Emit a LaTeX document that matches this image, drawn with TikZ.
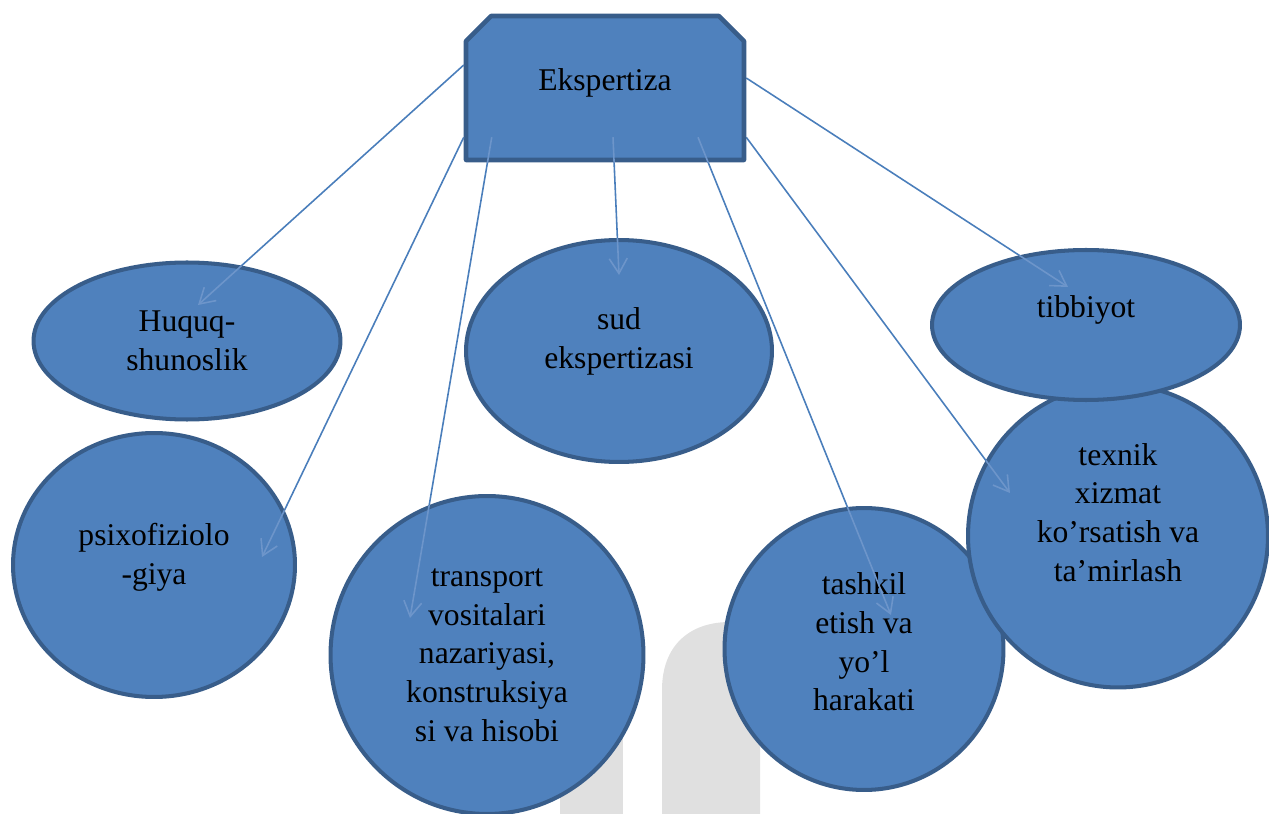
\documentclass[tikz,border=0pt]{standalone}
\usepackage{fontspec}
\setmainfont{Liberation Serif}
\usetikzlibrary{shapes.geometric,shapes.misc,arrows.meta,calc,backgrounds}
\definecolor{ovalblue}{HTML}{4F81BD}
\definecolor{ovaledge}{HTML}{385D8A}
\definecolor{linkblue}{HTML}{4A7EBB}
\definecolor{linkfaint}{HTML}{6D95CA}
\definecolor{markgray}{HTML}{E0E0E0}
\begin{document}
\begin{tikzpicture}[>={Straight Barb[length=3mm,width=3.6mm]},x=0.02cm,y=-0.02cm,
	font=\fontsize{18}{22}\selectfont,line join=round,
	oval/.style={ellipse,draw=ovaledge,line width=2.3pt,fill=ovalblue,inner sep=0pt,align=center},
	link/.style={->,draw=linkblue,line width=.9pt}]
	\useasboundingbox (0,0) rectangle (1269,814);
	\node[chamfered rectangle,chamfered rectangle corners={north west,north east},
		chamfered rectangle xsep=0.25cm,chamfered rectangle ysep=0.25cm,
		draw=ovaledge,line width=2.6pt,fill=ovalblue,
		inner sep=0pt,minimum width=5.56cm,minimum height=2.88cm,text depth=10pt] (eks) at (605,88) {Ekspertiza};
	\node[oval,minimum width=6.14cm,minimum height=3.14cm] (huq) at (187,341) {Huquq-\\shunoslik};
	\node[oval,minimum width=5.64cm,minimum height=5.28cm,text depth=13pt] (psi) at (154,565) {psixofiziolo\\-giya};
	\node[oval,minimum width=6.12cm,minimum height=4.44cm,text depth=15pt] (sud) at (619,351) {sud\\ekspertizasi};
	\node[oval,minimum width=6.26cm,minimum height=6.36cm] (tra) at (487,655) {transport\\vositalari\\nazariyasi,\\konstruksiya\\si va hisobi};
	\node[oval,minimum width=5.58cm,minimum height=5.64cm,text depth=8pt] (tas) at (864,649) {tashkil\\etish va\\yo’l\\harakati};
	\node[oval,minimum width=6.0cm,minimum height=6.06cm,text depth=27pt] (tex) at (1118,536) {texnik\\xizmat\\ko’rsatish va\\ta’mirlash};
	\node[oval,minimum width=6.16cm,minimum height=3.0cm,text depth=21pt] (tib) at (1086,325) {tibbiyot};
	\path ($(eks.west)+(0,-23)$) coordinate (s1) ($(huq.center)+(11,-36)$) coordinate (e1)
		($(eks.south west)+(0,-25)$) coordinate (s2) ($(psi.center)+(108,-8)$) coordinate (e2)
		($(eks.south west)+(28,-25)$) coordinate (s3) ($(tra.center)+(-77,-37)$) coordinate (e3)
		($(eks.south)+(8,-25)$) coordinate (s4) ($(sud.center)+(0,-76)$) coordinate (e4)
		($(eks.south)+(93,-25)$) coordinate (s5) ($(tas.center)+(27,-34)$) coordinate (e5)
		($(eks.south east)+(0,-25)$) coordinate (s6) ($(tex.center)+(-108,-43)$) coordinate (e6)
		($(eks.east)+(0,-10)$) coordinate (s7) ($(tib.center)+(-18,-38)$) coordinate (e7);
	\begin{scope}[on background layer]
		% faint logo behind
		\fill[markgray] (560,620) rectangle (623,814);
		\fill[markgray] (662,814)--(662,690) .. controls (662,645) and (690,622) .. (730,622)
			.. controls (752,622) and (760,630) .. (760,645) -- (760,814) -- cycle;
		\foreach \i in {1,...,7} \draw[link] (s\i) -- (e\i);
	\end{scope}
	% the parts seen through the shapes
	\begin{scope}
		\clip (eks.south west) rectangle (eks.north east);
		\foreach \i in {1,...,7} \draw[link,draw=linkfaint] (s\i) -- (e\i);
	\end{scope}
	\foreach \i/\nd in {1/huq,2/psi,3/tra,4/sud,5/tas,6/tex,7/tib}{
		\begin{scope}
			\clip let \p1=($(\nd.east)-(\nd.center)$), \p2=($(\nd.north)-(\nd.center)$) in
				(\nd.center) ellipse [x radius=\x1, y radius=\y2];
			\draw[link,draw=linkfaint] (s\i) -- (e\i);
		\end{scope}
	}
\end{tikzpicture}
\end{document}
